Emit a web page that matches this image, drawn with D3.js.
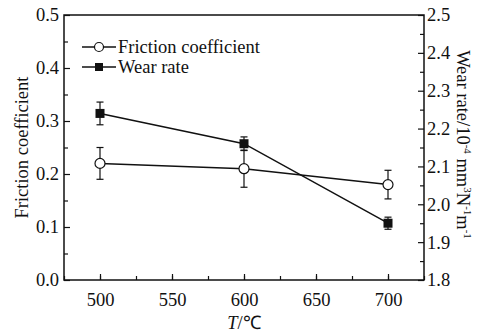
<!DOCTYPE html>
<html>
<head>
<meta charset="utf-8">
<script src="https://cdn.jsdelivr.net/npm/d3@7"></script>
<style>
  body { margin: 0; background: #fff; }
  svg text { font-family: "Liberation Serif", "Times New Roman", Times, serif !important; fill: #111; }
</style>
</head>
<body>
<svg id="chart" width="479" height="335"></svg>
<script>
'use strict';

// temperatures, °C
const temps = [500, 600, 700];
// friction coefficient (left axis) and its error
const friction = [0.22, 0.21, 0.18];
const frictionErr = [0.03, 0.035, 0.027];
// wear rate, 10^-4 mm3 N-1 m-1 (right axis) and its error
const wear = [2.24, 2.16, 1.95];
const wearErr = [0.03, 0.018, 0.016];

const xTicks = [500, 550, 600, 650, 700];
const leftTicks = [0.0, 0.1, 0.2, 0.3, 0.4, 0.5];
const rightTicks = [1.8, 1.9, 2.0, 2.1, 2.2, 2.3, 2.4, 2.5];

const margin = { top: 15, left: 64, right: 55, bottom: 55 };
const width = 479, height = 335;
const fs = 18.5;
const svg = d3.select("#chart");

const x = d3.scaleLinear().domain([475, 725]).range([margin.left, width - margin.right]);
const yL = d3.scaleLinear().domain([0, 0.5]).range([height - margin.bottom, margin.top]);
const yR = d3.scaleLinear().domain([1.8, 2.5]).range([height - margin.bottom, margin.top]);

const x0 = x.range()[0], x1 = x.range()[1];
const yb = yL.range()[0], yt = yL.range()[1];

// frame
svg.append("rect")
  .attr("x", x0).attr("y", yt)
  .attr("width", x1 - x0).attr("height", yb - yt)
  .attr("fill", "none").attr("stroke", "#111").attr("stroke-width", 1.5);

// bottom axis (ticks inward)
svg.append("g")
  .attr("transform", `translate(0, ${yb})`)
  .call(d3.axisBottom(x).tickValues(d3.range(475, 726, 25)).tickSize(-4).tickFormat(""))
  .call(g => g.select(".domain").remove());
const bx = svg.append("g")
  .attr("transform", `translate(0, ${yb})`)
  .call(d3.axisBottom(x).tickValues(xTicks).tickSize(-6).tickPadding(13).tickFormat(d3.format("d")));
bx.select(".domain").remove();

// left axis
svg.append("g")
  .attr("transform", `translate(${x0}, 0)`)
  .call(d3.axisLeft(yL).tickValues(d3.range(0.05, 0.5, 0.1)).tickSize(-4).tickFormat(""))
  .call(g => g.select(".domain").remove());
const ly = svg.append("g")
  .attr("transform", `translate(${x0}, 0)`)
  .call(d3.axisLeft(yL).tickValues(leftTicks).tickSize(-6).tickPadding(4).tickFormat(d3.format(".1f")));
ly.select(".domain").remove();

// right axis
svg.append("g")
  .attr("transform", `translate(${x1}, 0)`)
  .call(d3.axisRight(yR).tickValues(d3.range(1.85, 2.5, 0.1)).tickSize(-4).tickFormat(""))
  .call(g => g.select(".domain").remove());
const ry = svg.append("g")
  .attr("transform", `translate(${x1}, 0)`)
  .call(d3.axisRight(yR).tickValues(rightTicks).tickSize(-6).tickPadding(3).tickFormat(d3.format(".1f")));
ry.select(".domain").remove();

svg.selectAll(".tick line").attr("stroke", "#111").attr("stroke-width", 1.2);
svg.selectAll(".tick text").attr("font-size", fs).attr("fill", "#111");
ly.selectAll(".tick text").attr("dx", "-1");

// axis titles
svg.append("text")
  .attr("transform", `translate(28, ${(yt + yb) / 2}) rotate(-90)`)
  .attr("text-anchor", "middle").attr("font-size", fs)
  .text("Friction coefficient");

const rt = svg.append("text")
  .attr("transform", `translate(457, ${(yt + yb) / 2 - 3}) rotate(90)`)
  .attr("text-anchor", "middle").attr("font-size", fs);
rt.append("tspan").text("Wear rate/10");
rt.append("tspan").attr("font-size", 11).attr("dy", -7).text("-4");
rt.append("tspan").attr("dy", 7).text(" mm");
rt.append("tspan").attr("font-size", 11).attr("dy", -7).text("3");
rt.append("tspan").attr("dy", 7).text("N");
rt.append("tspan").attr("font-size", 11).attr("dy", -7).text("-1");
rt.append("tspan").attr("dy", 7).text("m");
rt.append("tspan").attr("font-size", 11).attr("dy", -7).text("-1");

const xt = svg.append("text")
  .attr("x", (x0 + x1) / 2).attr("y", 329)
  .attr("text-anchor", "middle").attr("font-size", fs);
xt.append("tspan").attr("font-style", "italic").text("T");
xt.append("tspan").text("/℃");

// series
const lineL = d3.line().x((d, i) => x(temps[i])).y(d => yL(d));
const lineR = d3.line().x((d, i) => x(temps[i])).y(d => yR(d));

svg.append("path").attr("d", lineL(friction))
  .attr("fill", "none").attr("stroke", "#111").attr("stroke-width", 1.5);
svg.append("path").attr("d", lineR(wear))
  .attr("fill", "none").attr("stroke", "#111").attr("stroke-width", 1.5);

function errorBars(vals, errs, scale) {
  const g = svg.append("g").attr("stroke", "#111").attr("stroke-width", 1.2);
  vals.forEach(function (v, i) {
    const cx = x(temps[i]);
    g.append("line").attr("x1", cx).attr("x2", cx)
      .attr("y1", scale(v - errs[i])).attr("y2", scale(v + errs[i]));
    [v - errs[i], v + errs[i]].forEach(function (e) {
      g.append("line").attr("x1", cx - 3.5).attr("x2", cx + 3.5)
        .attr("y1", scale(e)).attr("y2", scale(e));
    });
  });
}
errorBars(friction, frictionErr, yL);
errorBars(wear, wearErr, yR);

svg.selectAll(".fric").data(friction).enter().append("circle")
  .attr("class", "fric")
  .attr("cx", (d, i) => x(temps[i])).attr("cy", d => yL(d)).attr("r", 5)
  .attr("fill", "#fff").attr("stroke", "#111").attr("stroke-width", 1.2);

svg.selectAll(".wear").data(wear).enter().append("rect")
  .attr("class", "wear")
  .attr("x", (d, i) => x(temps[i]) - 4.5).attr("y", d => yR(d) - 4.5)
  .attr("width", 9).attr("height", 9).attr("fill", "#111");

// legend
const legend = svg.append("g");
[["Friction coefficient", "circle"], ["Wear rate", "square"]].forEach(function (item, i) {
  const ly0 = 47 + i * 20;
  legend.append("line").attr("x1", 82).attr("x2", 116).attr("y1", ly0).attr("y2", ly0)
    .attr("stroke", "#111").attr("stroke-width", 1.5);
  if (item[1] === "circle") {
    legend.append("circle").attr("cx", 99).attr("cy", ly0).attr("r", 4.5)
      .attr("fill", "#fff").attr("stroke", "#111").attr("stroke-width", 1.2);
  } else {
    legend.append("rect").attr("x", 95).attr("y", ly0 - 4).attr("width", 8).attr("height", 8)
      .attr("fill", "#111");
  }
  legend.append("text").attr("x", 118).attr("y", ly0 + 6).attr("font-size", fs).text(item[0]);
});
</script>
</body>
</html>
